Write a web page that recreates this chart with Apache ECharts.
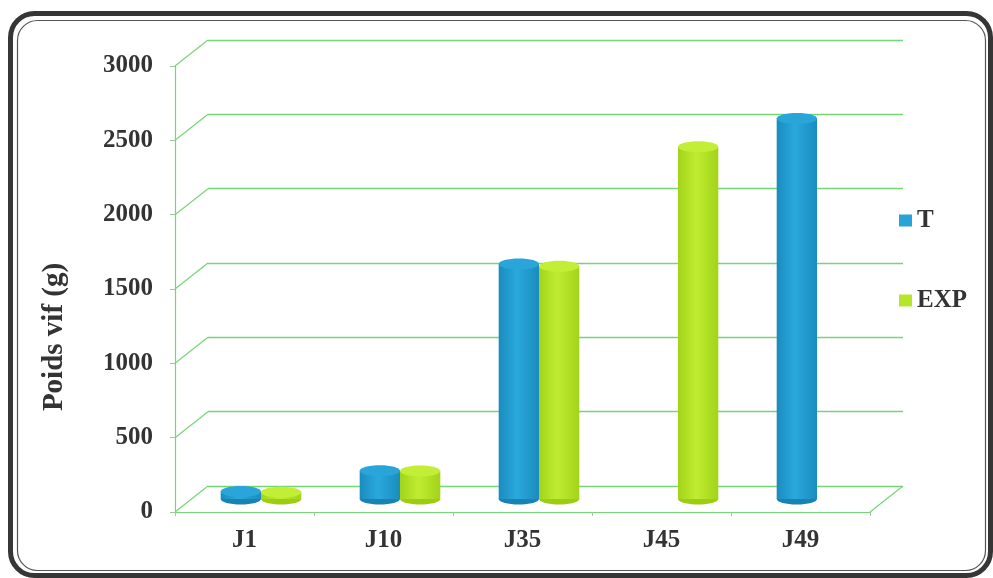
<!DOCTYPE html>
<html>
<head>
<meta charset="utf-8">
<script src="https://cdn.jsdelivr.net/npm/echarts@6/dist/echarts.min.js"></script>
<style>html,body{margin:0;padding:0;background:#fff;}#c{width:993px;height:578px;}</style>
</head>
<body>
<div id="c"></div>
<script>
var categories = ['J1', 'J10', 'J35', 'J45', 'J49'];
var seriesNames = ['T', 'EXP'];
var valuesT = [50, 190, 1580, null, 2560];
var valuesEXP = [45, 188, 1565, 2370, null];
var yTicks = [0, 500, 1000, 1500, 2000, 2500, 3000];

var FONT = '"Liberation Serif", "DejaVu Serif", serif';
var GREEN_LINE = '#76d676';
var DX = 33, DY = 26;
var L = 175, T0 = 66, W = 695, H = 446;

var colors = {
  T: {edge: '#1a8cbf', mid: '#2aa8dc', top: '#2aa5da', bottom: '#1883b3', legend: '#27a3d8'},
  EXP: {edge: '#a2d41a', mid: '#bfec30', top: '#c2ee38', bottom: '#9ccd14', legend: '#b6e62a'}
};

function toData(arr) {
  var out = [];
  arr.forEach(function (v, i) { if (v != null) out.push([i, v]); });
  return out;
}

function cylinder(name, idx) {
  var c = colors[name];
  return function (params, api) {
    var cat = api.value(0), v = api.value(1);
    var top = api.coord([cat, v]);
    var base = api.coord([cat, 0]);
    var band = api.size([1, 0])[0];
    var bw = band * 0.29;
    var cx = top[0] + (idx === 0 ? -0.5 : 0.5) * bw;
    var rx = bw / 2, ry = 5.5;
    var grad = new echarts.graphic.LinearGradient(0, 0, 1, 0, [
      {offset: 0, color: c.edge}, {offset: 0.45, color: c.mid}, {offset: 1, color: c.edge}
    ]);
    return {
      type: 'group',
      children: [
        {type: 'ellipse', shape: {cx: cx, cy: base[1], rx: rx, ry: ry}, style: {fill: c.bottom}},
        {type: 'rect', shape: {x: cx - rx, y: top[1], width: bw, height: base[1] - top[1]}, style: {fill: grad}},
        {type: 'ellipse', shape: {cx: cx, cy: top[1], rx: rx, ry: ry}, style: {fill: c.top}}
      ]
    };
  };
}

var chart = echarts.init(document.getElementById('c'), null, {renderer: 'canvas'});

var option = {
  backgroundColor: '#fff',
  animation: false,
  graphic: [
    {type: 'rect', left: 8, top: 11, shape: {width: 980, height: 562, r: 24}, style: {fill: 'none', stroke: '#363636', lineWidth: 5}, z: -10},
    {type: 'rect', left: 15, top: 18, shape: {width: 968, height: 550, r: 20}, style: {fill: 'none', stroke: '#555', lineWidth: 1.2}, z: -10}
  ],
  legend: {
    orient: 'vertical',
    left: 894, top: 203,
    itemGap: 55,
    itemWidth: 13, itemHeight: 12,
    icon: 'rect',
    textStyle: {fontFamily: FONT, fontWeight: 'bold', fontSize: 25, color: '#333'},
    data: seriesNames
  },
  grid: [
    {left: L, top: T0, width: W, height: H},
    {left: L + DX / 2, top: T0 - DY / 2, width: W, height: H},
    {left: L + DX, top: T0 - DY, width: W, height: H}
  ],
  xAxis: [
    {type: 'category', gridIndex: 0, data: categories,
     axisLine: {lineStyle: {color: GREEN_LINE, width: 1.2}},
     axisTick: {show: true, length: 4, inside: false, lineStyle: {color: '#9ac99a'}},
     axisLabel: {fontFamily: FONT, fontWeight: 'bold', fontSize: 25, color: '#333', margin: 16}},
    {type: 'category', gridIndex: 1, data: categories, show: false},
    {type: 'value', gridIndex: 2, min: 0, max: 5, show: false}
  ],
  yAxis: [
    {type: 'value', gridIndex: 0, min: 0, max: 3000, interval: 500,
     name: 'Poids vif (g)', nameLocation: 'middle', nameGap: 106,
     nameTextStyle: {fontFamily: FONT, fontWeight: 'bold', fontSize: 29, color: '#333', padding: [0, 96, 0, 0]},
     axisLine: {show: true, lineStyle: {color: GREEN_LINE, width: 1.2}},
     axisTick: {show: true, length: 5, lineStyle: {color: '#9ac99a'}},
     axisLabel: {fontFamily: FONT, fontWeight: 'bold', fontSize: 25, color: '#333', margin: 22,
                 formatter: function (v) { return String(v); }},
     splitLine: {show: false}},
    {type: 'value', gridIndex: 1, min: 0, max: 3000, interval: 500, show: false},
    {type: 'value', gridIndex: 2, min: 0, max: 3000, interval: 500,
     axisLine: {show: false}, axisTick: {show: false}, axisLabel: {show: false},
     splitLine: {show: true, lineStyle: {color: GREEN_LINE, width: 1.3}}}
  ],
  series: [
    {
      type: 'custom', name: 'wall', xAxisIndex: 2, yAxisIndex: 2, silent: true, z: 1,
      data: yTicks.map(function (v) { return [0, v]; }).concat([[5, 0]]),
      encode: {x: 0, y: 1},
      renderItem: function (params, api) {
        var p = api.coord([api.value(0), api.value(1)]);
        return {type: 'line', shape: {x1: p[0], y1: p[1], x2: p[0] - DX, y2: p[1] + DY},
                style: {stroke: GREEN_LINE, lineWidth: 1.2}};
      }
    },
    {
      type: 'custom', name: 'T', xAxisIndex: 1, yAxisIndex: 1, z: 3,
      itemStyle: {color: colors.T.legend},
      data: toData(valuesT), encode: {x: 0, y: 1},
      renderItem: cylinder('T', 0)
    },
    {
      type: 'custom', name: 'EXP', xAxisIndex: 1, yAxisIndex: 1, z: 3,
      itemStyle: {color: colors.EXP.legend},
      data: toData(valuesEXP), encode: {x: 0, y: 1},
      renderItem: cylinder('EXP', 1)
    }
  ]
};
chart.setOption(option);
</script>
</body>
</html>
